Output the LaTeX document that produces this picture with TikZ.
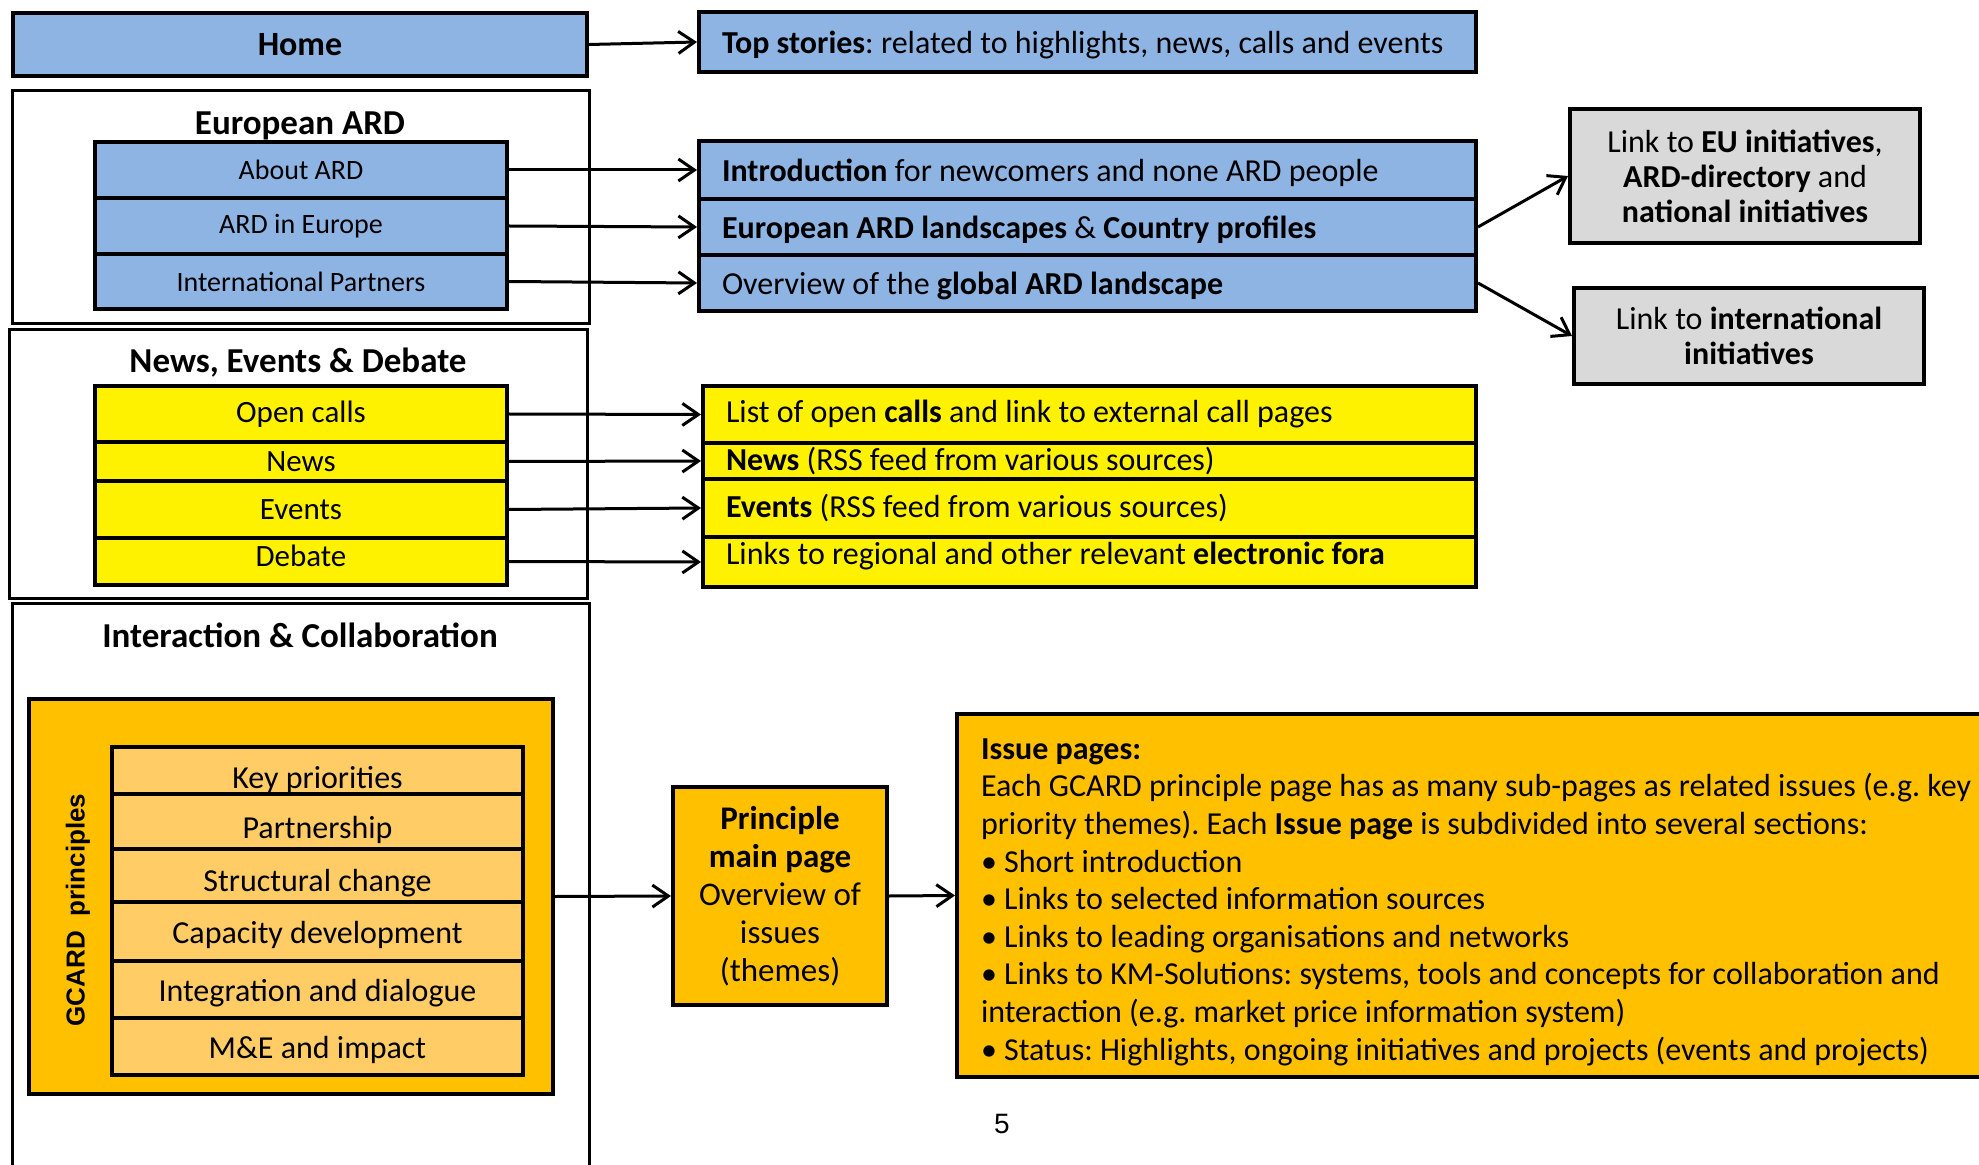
\documentclass[tikz,border=0pt]{standalone}
\usepackage{fontspec}
\setmainfont{Carlito}
\newfontfamily\arialfont{Liberation Sans}
\frenchspacing
\usetikzlibrary{arrows.meta}
\definecolor{ardblue}{HTML}{8EB4E3}
\definecolor{gcardorange}{HTML}{FFC000}
\definecolor{gcardlight}{HTML}{FFCC66}
\definecolor{linkgrey}{HTML}{D9D9D9}

\begin{document}
\begin{tikzpicture}[x=0.5pt,y=-0.5pt]
	\tikzstyle{fr} = [draw, line width=1.5pt, inner sep=0pt]
	\tikzstyle{bx} = [draw, line width=2pt, inner sep=0pt]
	\tikzstyle{lb} = [bx, fill=ardblue, minimum width=206pt, font=\fontsize{14}{16}\selectfont]
	\tikzstyle{rb} = [bx, fill=ardblue, text width=365.5pt, inner xsep=11.5pt, text depth=0pt, align=flush left, font=\fontsize{16}{19}\selectfont]
	\tikzstyle{ly} = [bx, fill=yellow, minimum width=206pt, font=\fontsize{15.5}{18}\selectfont]
	\tikzstyle{ry} = [bx, fill=yellow, text width=363.5pt, inner xsep=11.5pt, align=flush left, font=\fontsize{16}{19}\selectfont]
	\tikzstyle{pr} = [bx, fill=gcardlight, minimum width=205.5pt, text height=12pt, text depth=0pt, font=\fontsize{16}{19}\selectfont]
	\tikzstyle{gb} = [bx, fill=linkgrey, minimum width=175pt, align=center, font=\fontsize{16}{17.5}\selectfont]
	\tikzstyle{ttl} = [anchor=base, font=\bfseries\fontsize{17.5}{20}\selectfont]
	\tikzstyle{arr} = [-{Straight Barb[length=8pt,width=11pt]}, line width=1.5pt]
	\useasboundingbox (0,0) rectangle (1979,1165);

	\node[bx, fill=ardblue, minimum width=287pt, minimum height=31.5pt, font=\bfseries\fontsize{17}{20}\selectfont] (home) at (300,44.5) {Home};
	\node[rb, minimum height=30pt] (top) at (1087.5,42) {\textbf{Top stories}: related to highlights, news, calls and events};

	\node[fr, minimum width=288.5pt, minimum height=116.5pt] (eurframe) at (300.5,207.5) {};
	\node[ttl] (eurtitle) at (300,135) {European ARD};
	\node[lb, minimum height=28pt] (about) at (301,170) {About ARD};
	\node[lb, minimum height=28pt] (inEurope) at (301,226) {ARD in Europe};
	\node[lb, minimum height=27.5pt] (partners) at (301,281.5) {International Partners};

	\node[rb, minimum height=29pt] (intro) at (1087.5,170) {\textbf{Introduction} for newcomers and none ARD people};
	\node[rb, minimum height=28pt] (landscapes) at (1087.5,227) {\textbf{European ARD landscapes} \& \textbf{Country profiles}};
	\node[rb, minimum height=28pt] (global) at (1087.5,283) {Overview of the \textbf{global ARD landscape}};

	\node[gb, minimum height=67pt] (euinit) at (1745,176) {Link to \textbf{EU initiatives},\\\textbf{ARD-directory} and\\\textbf{national initiatives}};
	\node[gb, minimum height=48pt] (intinit) at (1749,336) {Link to \textbf{international}\\\textbf{initiatives}};

	\node[fr, minimum width=289pt, minimum height=134pt] (newsframe) at (298,464) {};
	\node[ttl] (newstitle) at (298,373) {News, Events \& Debate};
	\node[ly, minimum height=28pt] (calls) at (301,414) {Open calls};
	\node[ly, minimum height=19.5pt] (news) at (301,461.5) {News};
	\node[ly, minimum height=28.5pt] (events) at (301,509.5) {Events};
	\node[ly, minimum height=23.5pt, text depth=6pt] (debate) at (301,561.5) {Debate};

	\node[ry, minimum height=28.5pt] (callsR) at (1089.5,414.5) {List of open \textbf{calls} and link to external call pages};
	\node[ry, minimum height=18pt] (newsR) at (1089.5,461) {\textbf{News} (RSS feed from various sources)};
	\node[ry, minimum height=29pt] (eventsR) at (1089.5,508) {\textbf{Events} (RSS feed from various sources)};
	\node[ry, minimum height=25pt, text depth=9pt] (debateR) at (1089.5,562) {Links to regional and other relevant \textbf{electronic fora}};

	\draw[fr] (12,1165) |- (589,603) -- (589,1165);
	\node[ttl] (intertitle) at (300,647) {Interaction \& Collaboration};
	\node[bx, fill=gcardorange, minimum width=262pt, minimum height=197.5pt] (gcard) at (291,896.5) {};
	\node[rotate=90, font=\arialfont\bfseries\fontsize{13}{15}\selectfont] (gcardlabel) at (78,910) {GCARD\ \ principles};
	\node[pr, minimum height=23.5pt, text height=18pt] (keyprio) at (317.5,770.5) {Key priorities};
	\node[pr, minimum height=27.5pt, text height=17pt] (partner) at (317.5,821.5) {Partnership};
	\node[pr, minimum height=26.5pt, text height=16pt] (structural) at (317.5,875.5) {Structural change};
	\node[pr, minimum height=29.5pt] (capacity) at (317.5,931.5) {Capacity development};
	\node[pr, minimum height=28.5pt] (integration) at (317.5,989.5) {Integration and dialogue};
	\node[pr, minimum height=28.5pt] (impact) at (317.5,1046.5) {M\&E and impact};

	\node[bx, fill=gcardorange, minimum width=107pt, minimum height=109pt, align=center, font=\fontsize{16.5}{19}\selectfont] (mainpage) at (780,896) {\textbf{Principle}\\\textbf{main page}\\Overview of\\issues\\(themes)};
	\node[bx, fill=gcardorange, anchor=west, minimum height=181.5pt, text width=530pt, inner xsep=12pt, align=flush left, font=\fontsize{16}{18.8}\selectfont] (issues) at (955,895.5) {\rule{0pt}{17pt}\textbf{Issue pages:}\\
		Each GCARD principle page has as many sub-pages as related issues (e.g. key\\
		priority themes). Each \textbf{Issue page} is subdivided into several sections:\\
		• Short introduction\\
		• Links to selected information sources\\
		• Links to leading organisations and networks\\
		• Links to KM-Solutions: systems, tools and concepts for collaboration and\\
		interaction (e.g. market price information system)\\
		• Status: Highlights, ongoing initiatives and projects (events and projects)};
	\node[font=\arialfont\fontsize{14}{16}\selectfont] (pagenum) at (1002,1124) {5};

	\draw[arr] (home.east) -- (top.west);
	\draw[arr] (about.east) -- (intro.west);
	\draw[arr] (inEurope.east) -- (landscapes.west);
	\draw[arr] (partners.east) -- (global.west);
	\draw[arr] (landscapes.east) -- (euinit.west);
	\draw[arr] (global.east) -- (intinit.west);
	\draw[arr] (calls.east) -- (callsR.west);
	\draw[arr] (news.east) -- (newsR.west);
	\draw[arr] (events.east) -- (eventsR.west);
	\draw[arr] (debate.east) -- (debateR.west);
	\draw[arr] (gcard.east) -- (mainpage.west);
	\draw[arr] (mainpage.east) -- (issues.west);
\end{tikzpicture}
\end{document}
